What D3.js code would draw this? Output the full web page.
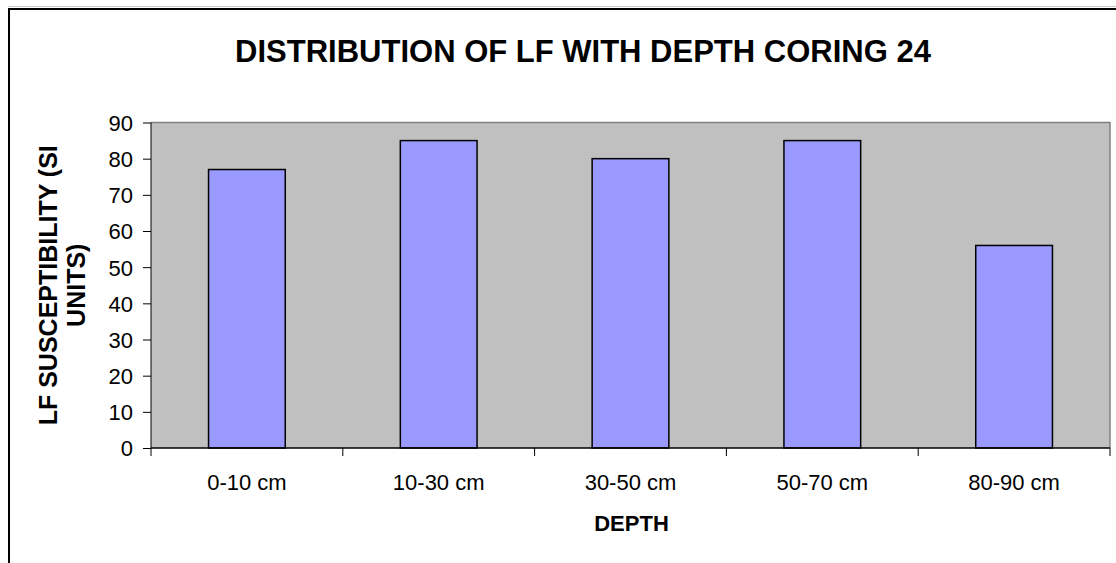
<!DOCTYPE html>
<html>
<head>
<meta charset="utf-8">
<script src="https://cdn.jsdelivr.net/npm/d3@7"></script>
<style>
  html, body { margin: 0; padding: 0; background: #fff; }
  svg { display: block; font-family: "Liberation Sans", Arial, sans-serif; }
</style>
</head>
<body>
<svg id="chart" width="1116" height="563"></svg>
<script>
// Low-frequency susceptibility by depth interval, coring 24
const categories = ["0-10 cm", "10-30 cm", "30-50 cm", "50-70 cm", "80-90 cm"];
const lfValues = [77, 85, 80, 85, 56];
const yTicks = [0, 10, 20, 30, 40, 50, 60, 70, 80, 90];

const svg = d3.select("#chart");
const W = 1116, H = 563;
const FONT = '"Liberation Sans", Arial, sans-serif';
const plot = { left: 151, top: 122.5, right: 1110, bottom: 448 };

// outer chart frame (runs past the right/bottom edges)
svg.append("line").attr("x1", 8).attr("x2", W).attr("y1", 6.5).attr("y2", 6.5)
  .attr("stroke", "#c8c8c8").attr("stroke-width", 1);
svg.append("path")
  .attr("d", `M9,${H + 5} L9,9 L${W + 5},9`)
  .attr("fill", "none").attr("stroke", "#000").attr("stroke-width", 2);

const x = d3.scaleBand().domain(categories).range([plot.left, plot.right]).paddingInner(0.6).paddingOuter(0.3);
const xEdges = d3.scaleLinear().domain([0, categories.length]).range([plot.left, plot.right]);
const y = d3.scaleLinear().domain([0, 90]).range([plot.bottom, plot.top]);

// plot area background
svg.append("rect")
  .attr("x", plot.left).attr("y", plot.top)
  .attr("width", plot.right - plot.left).attr("height", plot.bottom - plot.top)
  .attr("fill", "#c0c0c0");
svg.append("path")
  .attr("d", `M${plot.left},${plot.top} L${plot.right},${plot.top} L${plot.right},${plot.bottom}`)
  .attr("fill", "none").attr("stroke", "#808080").attr("stroke-width", 1.5);

// bars
svg.append("g").selectAll("rect").data(categories).join("rect")
  .attr("x", d => x(d))
  .attr("y", (d, i) => y(lfValues[i]))
  .attr("width", x.bandwidth())
  .attr("height", (d, i) => y(0) - y(lfValues[i]))
  .attr("fill", "#9999ff")
  .attr("stroke", "#000").attr("stroke-width", 1.5);

// y axis
const yAxis = d3.axisLeft(y).tickValues(yTicks).tickSize(8).tickPadding(10);
const gy = svg.append("g").attr("transform", `translate(${plot.left},0)`).call(yAxis);
gy.attr("font-size", null).attr("font-family", null);
gy.select(".domain").remove();
gy.selectAll(".tick line").attr("stroke", "#000");
gy.selectAll(".tick text").attr("font-size", 22).attr("fill", "#000")
  .attr("font-family", FONT).attr("dy", "0.36em");
svg.append("line").attr("x1", plot.left).attr("x2", plot.left)
  .attr("y1", plot.top).attr("y2", plot.bottom + 8)
  .attr("stroke", "#000").attr("stroke-width", 1);

// x axis: baseline, boundary ticks and category labels
svg.append("line").attr("x1", plot.left).attr("x2", plot.right)
  .attr("y1", plot.bottom).attr("y2", plot.bottom)
  .attr("stroke", "#000").attr("stroke-width", 1.5);
svg.append("g").selectAll("line").data(d3.range(1, categories.length + 1)).join("line")
  .attr("x1", d => xEdges(d)).attr("x2", d => xEdges(d))
  .attr("y1", plot.bottom).attr("y2", plot.bottom + 8)
  .attr("stroke", "#000").attr("stroke-width", 1);
svg.append("g").selectAll("text").data(categories).join("text")
  .attr("x", d => x(d) + x.bandwidth() / 2)
  .attr("y", 490)
  .attr("text-anchor", "middle")
  .attr("font-size", 22).attr("fill", "#000")
  .text(d => d);

// titles
svg.append("text").attr("x", 583).attr("y", 62)
  .attr("text-anchor", "middle").attr("font-size", 31).attr("font-weight", "bold")
  .text("DISTRIBUTION OF LF WITH DEPTH CORING 24");
svg.append("text").attr("x", (plot.left + plot.right) / 2 + 1).attr("y", 531)
  .attr("text-anchor", "middle").attr("font-size", 22).attr("font-weight", "bold")
  .text("DEPTH");

const yTitle = svg.append("text")
  .attr("transform", `translate(57,${(plot.top + plot.bottom) / 2}) rotate(-90)`)
  .attr("text-anchor", "middle").attr("font-size", 25).attr("font-weight", "bold");
yTitle.append("tspan").attr("x", 0).attr("dy", 0).text("LF SUSCEPTIBILITY (SI");
yTitle.append("tspan").attr("x", 0).attr("dy", 28).text("UNITS)");
</script>
</body>
</html>
